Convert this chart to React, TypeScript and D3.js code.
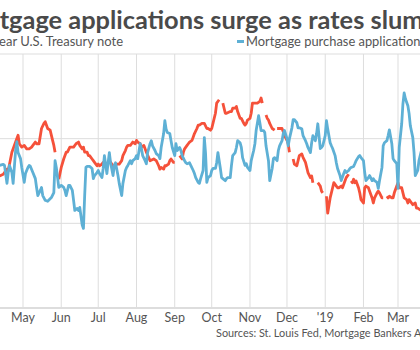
import React from 'react';
import * as d3 from 'd3';

// days counted from 1 May 2018; null = market holiday (gap in the line)
const treasury: [number, number | null][] = [
  [-19, 2.78], [-16, 2.79], [-13, 2.82], [-12, 2.81], [-9, 2.92], [-6, 2.98], [-4, 3.02], [-3, 2.97],
  [-1, 2.95], [1, 2.96], [3, 2.94], [5, 2.94], [7, 2.95], [8, 2.96], [10, 2.98], [11, 2.97], [13, 2.97],
  [15, 3.06], [17, 3.09], [18, 3.1], [20, 3.06], [22, 3.05], [24, 2.99], [25, 2.96], [26, 2.92], [27, null],
  [29, 2.76], [31, 2.83], [33, 2.88], [35, 2.92], [36, 2.92], [38, 2.95], [41, 2.95], [43, 2.97], [45, 2.98],
  [46, 2.96], [48, 2.94], [49, 2.95], [50, 2.92], [52, 2.92], [53, 2.9], [54, 2.9], [56, 2.88], [57, 2.87],
  [58, 2.86], [60, 2.84], [61, 2.85], [62, 2.84], [64, 2.85], [65, 2.86], [66, 2.84], [68, 2.85], [69, 2.86],
  [70, 2.87], [73, 2.84], [75, 2.84], [76, 2.85], [78, 2.85], [80, 2.87], [81, 2.9], [83, 2.93], [84, 2.95],
  [85, 2.96], [87, 2.96], [88, 2.97], [89, 2.98], [91, 2.97], [92, 2.99], [93, 2.98], [95, 2.97], [96, 2.95],
  [98, 2.96], [100, 2.92], [103, 2.87], [106, 2.88], [108, 2.87], [110, 2.84], [111, 2.82], [112, 2.83],
  [114, 2.82], [115, 2.84], [116, 2.84], [118, 2.85], [119, 2.87], [120, 2.88], [122, 2.86], [123, 2.86],
  [125, null], [127, 2.9], [129, 2.88], [130, 2.92], [131, 2.94], [133, 2.96], [134, 2.97], [135, 2.98],
  [137, 2.99], [138, 3.01], [139, 3.03], [141, 3.06], [142, 3.08], [143, 3.08], [145, 3.09], [146, 3.09],
  [147, 3.09], [149, 3.06], [150, 3.06], [152, 3.05], [153, 3.06], [154, 3.09], [156, 3.15], [157, 3.21],
  [159, 3.23], [160, null], [162, 3.21], [164, 3.15], [165, 3.15], [168, 3.16], [169, 3.16], [170, 3.18],
  [172, 3.18], [173, 3.19], [174, 3.16], [176, 3.12], [177, 3.12], [179, 3.09], [180, 3.08], [181, 3.09],
  [182, 3.11], [184, 3.12], [185, 3.15], [186, 3.21], [187, 3.21], [189, 3.21], [190, 3.21], [192, 3.22],
  [193, 3.24], [194, 3.21], [195, null], [197, 3.14], [198, 3.12], [199, 3.11], [200, 3.09], [202, 3.06],
  [204, 3.05], [205, null], [206, 3.06], [210, 3.06], [211, 3.04], [212, 3.02], [214, 2.99], [215, 2.97],
  [216, 2.92], [218, null], [219, 2.88], [220, 2.85], [222, 2.84], [223, 2.87], [224, 2.9], [226, 2.91],
  [227, 2.89], [229, 2.86], [230, 2.83], [231, 2.8], [233, 2.77], [234, 2.78], [235, 2.74], [237, null],
  [239, 2.74], [241, 2.72], [242, 2.69], [243, 2.68], [245, null], [246, 2.66], [247, 2.56], [249, 2.65],
  [251, 2.71], [252, 2.74], [254, 2.72], [255, 2.71], [256, 2.71], [258, 2.72], [259, 2.71], [261, 2.75],
  [262, 2.77], [264, 2.79], [265, null], [266, 2.75], [267, 2.74], [268, 2.76], [269, 2.74], [270, 2.75],
  [272, 2.71], [273, 2.68], [274, 2.64], [276, 2.62], [277, 2.71], [278, 2.72], [280, 2.71], [281, 2.69],
  [283, 2.65], [284, 2.62], [285, 2.65], [287, 2.68], [288, 2.69], [289, 2.68], [291, 2.65], [292, 2.65],
  [293, null], [295, 2.66], [296, 2.65], [297, 2.66], [299, 2.65], [300, 2.65], [301, 2.68], [303, 2.72],
  [304, 2.74], [305, 2.71], [307, 2.71], [308, 2.68], [309, 2.65], [311, 2.64], [312, 2.62], [313, 2.64],
  [315, 2.62], [316, 2.61], [318, 2.62], [319, 2.59], [320, 2.59], [322, 2.58], [324, 2.57],
];

const purchase: [number, number][] = [
  [-19, 242.1], [-16, 242.4], [-15, 242.1], [-13, 236.8], [-12, 240], [-11, 242.1], [-9, 240], [-8, 236.8],
  [-6, 246.5], [-5, 249.1], [-4, 245.9], [-2, 244.1], [-1, 241.5], [1, 237.1], [2, 239.7], [4, 241.5],
  [5, 242.1], [6, 241.8], [8, 240], [10, 238.2], [11, 235.6], [12, 233.2], [14, 234.7], [15, 235.6],
  [16, 233.2], [18, 231.8], [20, 231.5], [23, 232.6], [25, 234.1], [26, 243.5], [27, 241.5], [29, 235.6],
  [31, 236.2], [33, 235.6], [34, 234.7], [35, 233.2], [37, 236.2], [38, 236.2], [40, 234.7], [41, 231.8],
  [42, 228.8], [44, 229.4], [45, 228.8], [46, 229.7], [48, 224.5], [49, 223.5], [50, 233.2], [51, 241.5],
  [52, 241.8], [54, 241.8], [56, 241.2], [57, 238.2], [58, 239.1], [60, 240], [61, 240.6], [62, 239.7],
  [64, 238.5], [65, 241.2], [66, 245], [68, 239.7], [69, 242.9], [70, 245.9], [71, 242.9], [73, 239.1],
  [74, 242.1], [75, 242.9], [77, 239.1], [78, 236.8], [80, 233.2], [81, 236.8], [83, 240.6], [84, 241.5],
  [85, 242.1], [87, 243.5], [88, 242.6], [89, 243.5], [91, 244.1], [92, 245], [93, 244.1], [95, 248.5],
  [96, 247.1], [97, 245], [99, 243.5], [100, 242.6], [101, 245.9], [103, 248.5], [104, 249.4], [105, 247.9],
  [107, 246.5], [108, 245.6], [110, 245], [111, 244.1], [112, 247.4], [114, 251.5], [115, 255.3], [116, 252.9],
  [117, 251.8], [119, 251.5], [120, 249.4], [121, 247.4], [123, 245], [124, 248.5], [125, 246.5], [127, 247.4],
  [128, 246.5], [129, 245], [131, 243.5], [132, 242.9], [133, 242.6], [135, 242.9], [136, 242.1], [138, 240.6],
  [139, 239.7], [140, 238.5], [142, 237.1], [143, 236.8], [144, 238.2], [146, 240.6], [147, 250.3], [148, 245.6],
  [149, 237.1], [150, 238.5], [152, 239.1], [153, 240.6], [154, 241.2], [156, 241.2], [157, 242.9], [158, 245.9],
  [160, 241.2], [161, 238.5], [162, 238.2], [164, 237.6], [165, 238.2], [166, 238.5], [168, 238.5], [169, 242.1],
  [170, 245], [172, 245.9], [173, 247.4], [174, 249.4], [176, 248.8], [177, 247.4], [178, 244.4], [180, 242.1],
  [181, 242.6], [182, 241.5], [184, 240.6], [185, 243.5], [187, 246.5], [188, 248.5], [189, 252.4], [191, 256.8],
  [192, 254.7], [193, 252.4], [195, 252.4], [196, 251.8], [197, 247.9], [199, 243.5], [200, 237.6], [202, 241.2],
  [203, 244.1], [204, 244.4], [206, 243.5], [207, 246.5], [208, 247.9], [210, 249.4], [211, 251.5], [212, 252.4],
  [214, 250], [215, 247.9], [216, 250], [218, 253.2], [219, 255.6], [220, 255.6], [222, 254.7], [223, 253.2],
  [224, 253.2], [226, 252.9], [227, 250.9], [229, 249.4], [230, 248.5], [231, 247.4], [233, 245.9], [234, 248.8],
  [235, 250.9], [237, 249.4], [238, 251.5], [239, 254.4], [241, 247.1], [242, 247.4], [243, 247.9], [245, 250.9],
  [246, 255.3], [247, 252.9], [249, 248.8], [250, 247.9], [251, 247.1], [253, 245], [254, 242.9], [255, 241.2],
  [257, 239.1], [258, 237.6], [260, 239.7], [261, 240.6], [262, 240], [264, 240.6], [265, 241.2], [266, 241.5],
  [268, 241.8], [269, 242.6], [270, 243.5], [272, 244.7], [273, 245], [274, 244.4], [276, 243.5], [277, 240],
  [278, 237.6], [280, 238.5], [281, 239.1], [283, 237.6], [284, 238.2], [285, 237.6], [287, 237.1], [288, 235.3],
  [289, 237.6], [291, 241.5], [292, 247.9], [293, 248.8], [295, 249.4], [296, 250.9], [297, 252.6], [299, 248.5],
  [300, 244.1], [301, 243.5], [303, 242.6], [304, 235.3], [305, 247.4], [307, 254.4], [308, 260.3], [309, 263.5],
  [310, 261.8], [312, 259.7], [313, 257.4], [314, 253.8], [316, 250.3], [317, 245.9], [318, 239.1], [320, 240.6],
  [321, 243.5], [323, 246.5],
];

const yieldTicks = [2.0, 2.5, 3.0, 3.5];
const monthNames = ['May', 'Jun', 'Jul', 'Aug', 'Sep', 'Oct', 'Nov', 'Dec', "'19", 'Feb', 'Mar'];

const title = 'Mortgage applications surge as rates slump';
const legendRed = '10-year U.S. Treasury note';
const legendBlue = 'Mortgage purchase applications';
const source = 'Sources: St. Louis Fed, Mortgage Bankers Association';

const W = 420;
const H = 350;
const top = 54;
const bottom = 308;
const start = new Date(2018, 4, 1);
const end = new Date(2019, 2, 1);
const day = (d: number) => d3.timeDay.offset(start, d);

const RED = '#f5513a';
const BLUE = '#5eb0d5';
const FONT = 'Lato, "Open Sans", sans-serif';

export default function App() {
  const x = d3.scaleTime().domain([start, end]).range([23, 398]);
  const yL = d3.scaleLinear().domain([2.0, 3.5]).range([bottom, top]);
  const yR = d3.scaleLinear().domain([200, 275]).range([bottom, top]);

  const redLine = d3
    .line<[number, number | null]>()
    .defined((d) => d[1] !== null)
    .x((d) => x(day(d[0])))
    .y((d) => yL(d[1] as number));

  const blueLine = d3
    .line<[number, number]>()
    .x((d) => x(day(d[0])))
    .y((d) => yR(d[1]));

  const months = d3.timeMonth.range(start, d3.timeDay.offset(end, 1));

  return (
    <svg width={W} height={H} style={{ position: 'absolute', left: 0, top: 0, background: '#fff' }}>
      <text x={-48} y={29} fontFamily={FONT} fontWeight={700} fontSize={25.4} fill="#4a4a4a">
        {title}
      </text>
      <text x={123} y={46} textAnchor="end" fontFamily={FONT} fontSize={13} fill="#555">
        {legendRed}
      </text>
      <rect x={237} y={40} width={7} height={3} fill={BLUE} />
      <text x={246} y={46} fontFamily={FONT} fontSize={12.9} fill="#555">
        {legendBlue}
      </text>

      {yieldTicks.map((t) => (
        <line key={t} x1={0} x2={W} y1={yL(t)} y2={yL(t)} stroke={t === 2.0 ? '#bbb' : '#ddd'} strokeWidth={1} />
      ))}
      {months.map((m) => (
        <line key={+m} x1={x(m)} x2={x(m)} y1={top} y2={bottom} stroke="#ddd" strokeWidth={1} />
      ))}

      <path d={redLine(treasury) || ''} fill="none" stroke={RED} strokeWidth={2.8} strokeLinejoin="round" />
      <path d={blueLine(purchase) || ''} fill="none" stroke={BLUE} strokeWidth={2.8} strokeLinejoin="round" />

      {months.map((m, i) => (
        <text key={'l' + +m} x={x(m)} y={322} textAnchor="middle" fontFamily={FONT} fontSize={12.5} fill="#555">
          {monthNames[i]}
        </text>
      ))}
      <text x={216} y={337} fontFamily={FONT} fontSize={10.9} fill="#555">
        {source}
      </text>
    </svg>
  );
}
